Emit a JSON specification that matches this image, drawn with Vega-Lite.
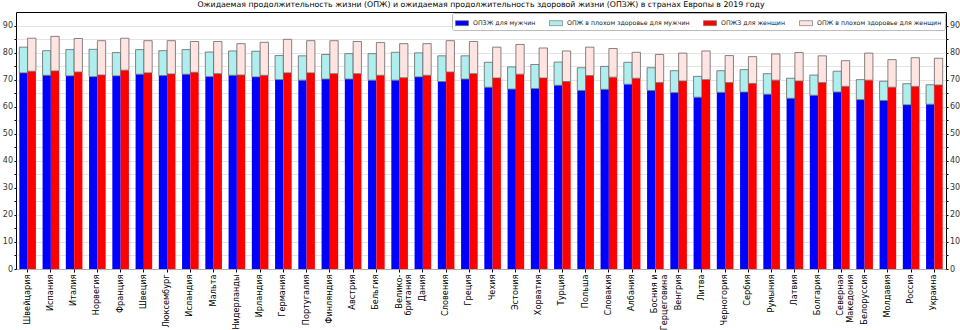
{
  "$schema": "https://vega.github.io/schema/vega-lite/v6.json",
  "autosize": "none",
  "width": 930,
  "height": 257,
  "padding": {"left": 16, "top": 12, "right": 14, "bottom": 61},
  "background": "#ffffff",
  "title": {"text": "Ожидаемая продолжительность жизни (ОПЖ) и ожидаемая продолжительность здоровой жизни (ОПЗЖ) в странах Европы в 2019 году", "fontSize": 7.8, "font": "DejaVu Sans", "fontWeight": "normal", "color": "#000000", "offset": 3, "anchor": "middle"},
  "config": {"view": {"stroke": "#000000", "strokeWidth": 1}, "font": "DejaVu Sans"},
  "data": {"values": [
    {"c": "Швейцария", "g": "м", "hale": 72.5, "le": 82.0}, {"c": "Швейцария", "g": "ж", "hale": 73.1, "le": 85.3},
    {"c": "Испания", "g": "м", "hale": 71.6, "le": 80.7}, {"c": "Испания", "g": "ж", "hale": 73.2, "le": 86.0},
    {"c": "Италия", "g": "м", "hale": 71.4, "le": 81.1}, {"c": "Италия", "g": "ж", "hale": 72.8, "le": 85.2},
    {"c": "Норвегия", "g": "м", "hale": 71.1, "le": 81.2}, {"c": "Норвегия", "g": "ж", "hale": 71.7, "le": 84.4},
    {"c": "Франция", "g": "м", "hale": 71.4, "le": 80.0}, {"c": "Франция", "g": "ж", "hale": 73.5, "le": 85.3},
    {"c": "Швеция", "g": "м", "hale": 72.0, "le": 81.1}, {"c": "Швеция", "g": "ж", "hale": 72.5, "le": 84.4},
    {"c": "Люксембург", "g": "м", "hale": 71.5, "le": 80.7}, {"c": "Люксембург", "g": "ж", "hale": 72.1, "le": 84.4},
    {"c": "Исландия", "g": "м", "hale": 72.0, "le": 81.1}, {"c": "Исландия", "g": "ж", "hale": 72.7, "le": 84.1},
    {"c": "Мальта", "g": "м", "hale": 71.1, "le": 80.2}, {"c": "Мальта", "g": "ж", "hale": 72.2, "le": 84.1},
    {"c": "Нидерланды", "g": "м", "hale": 71.6, "le": 80.6}, {"c": "Нидерланды", "g": "ж", "hale": 71.7, "le": 83.3},
    {"c": "Ирландия", "g": "м", "hale": 71.0, "le": 80.5}, {"c": "Ирландия", "g": "ж", "hale": 71.6, "le": 83.8},
    {"c": "Германия", "g": "м", "hale": 70.0, "le": 78.9}, {"c": "Германия", "g": "ж", "hale": 72.5, "le": 84.9},
    {"c": "Португалия", "g": "м", "hale": 69.8, "le": 78.8}, {"c": "Португалия", "g": "ж", "hale": 72.5, "le": 84.4},
    {"c": "Финляндия", "g": "м", "hale": 70.2, "le": 79.3}, {"c": "Финляндия", "g": "ж", "hale": 72.2, "le": 84.4},
    {"c": "Австрия", "g": "м", "hale": 70.2, "le": 79.6}, {"c": "Австрия", "g": "ж", "hale": 72.2, "le": 84.1},
    {"c": "Бельгия", "g": "м", "hale": 69.8, "le": 79.6}, {"c": "Бельгия", "g": "ж", "hale": 71.6, "le": 83.7},
    {"c": "Велико-\nбритания", "g": "м", "hale": 69.8, "le": 80.1}, {"c": "Велико-\nбритания", "g": "ж", "hale": 70.7, "le": 83.3},
    {"c": "Дания", "g": "м", "hale": 71.0, "le": 79.9}, {"c": "Дания", "g": "ж", "hale": 71.6, "le": 83.3},
    {"c": "Словения", "g": "м", "hale": 69.3, "le": 78.8}, {"c": "Словения", "g": "ж", "hale": 72.8, "le": 84.4},
    {"c": "Греция", "g": "м", "hale": 70.2, "le": 78.8}, {"c": "Греция", "g": "ж", "hale": 72.2, "le": 84.1},
    {"c": "Чехия", "g": "м", "hale": 67.2, "le": 76.4}, {"c": "Чехия", "g": "ж", "hale": 70.6, "le": 82.0},
    {"c": "Эстония", "g": "м", "hale": 66.5, "le": 74.7}, {"c": "Эстония", "g": "ж", "hale": 72.0, "le": 83.0},
    {"c": "Хорватия", "g": "м", "hale": 66.7, "le": 75.6}, {"c": "Хорватия", "g": "ж", "hale": 70.6, "le": 81.7},
    {"c": "Турция", "g": "м", "hale": 67.9, "le": 76.5}, {"c": "Турция", "g": "ж", "hale": 69.3, "le": 80.6},
    {"c": "Польша", "g": "м", "hale": 66.0, "le": 74.4}, {"c": "Польша", "g": "ж", "hale": 71.5, "le": 82.0},
    {"c": "Словакия", "g": "м", "hale": 66.4, "le": 74.9}, {"c": "Словакия", "g": "ж", "hale": 70.9, "le": 81.5},
    {"c": "Албания", "g": "м", "hale": 68.3, "le": 76.4}, {"c": "Албания", "g": "ж", "hale": 70.5, "le": 80.1},
    {"c": "Босния и\nГерцеговина", "g": "м", "hale": 66.0, "le": 74.4}, {"c": "Босния и\nГерцеговина", "g": "ж", "hale": 68.9, "le": 79.3},
    {"c": "Венгрия", "g": "м", "hale": 65.2, "le": 73.3}, {"c": "Венгрия", "g": "ж", "hale": 69.5, "le": 79.8},
    {"c": "Литва", "g": "м", "hale": 63.5, "le": 71.2}, {"c": "Литва", "g": "ж", "hale": 70.0, "le": 80.6},
    {"c": "Черногория", "g": "м", "hale": 65.3, "le": 73.3}, {"c": "Черногория", "g": "ж", "hale": 68.9, "le": 78.9},
    {"c": "Сербия", "g": "м", "hale": 65.4, "le": 73.7}, {"c": "Сербия", "g": "ж", "hale": 68.6, "le": 78.5},
    {"c": "Румыния", "g": "м", "hale": 64.6, "le": 72.2}, {"c": "Румыния", "g": "ж", "hale": 69.8, "le": 79.5},
    {"c": "Латвия", "g": "м", "hale": 63.1, "le": 70.5}, {"c": "Латвия", "g": "ж", "hale": 69.5, "le": 80.0},
    {"c": "Болгария", "g": "м", "hale": 64.2, "le": 71.7}, {"c": "Болгария", "g": "ж", "hale": 68.9, "le": 78.8},
    {"c": "Северная\nМакедония", "g": "м", "hale": 65.4, "le": 73.1}, {"c": "Северная\nМакедония", "g": "ж", "hale": 67.5, "le": 77.0},
    {"c": "Белоруссия", "g": "м", "hale": 62.6, "le": 70.0}, {"c": "Белоруссия", "g": "ж", "hale": 69.8, "le": 79.8},
    {"c": "Молдавия", "g": "м", "hale": 62.3, "le": 69.4}, {"c": "Молдавия", "g": "ж", "hale": 67.2, "le": 77.4},
    {"c": "Россия", "g": "м", "hale": 60.7, "le": 68.5}, {"c": "Россия", "g": "ж", "hale": 67.5, "le": 78.1},
    {"c": "Украина", "g": "м", "hale": 60.9, "le": 68.1}, {"c": "Украина", "g": "ж", "hale": 68.0, "le": 77.9}
  ]},
  "encoding": {
    "x": {"field": "c", "type": "nominal", "sort": null,
      "scale": {"paddingInner": 0.286, "paddingOuter": 0.143},
      "axis": {"title": null, "labelAngle": -90, "labelAlign": "right", "labelBaseline": "middle", "labelFontSize": 8.2, "labelColor": "#000000", "labelExpr": "split(datum.label, '\\n')", "labelOverlap": false, "labelLimit": 0, "labelLineHeight": 9.5, "tickSize": 3, "tickColor": "#000000", "domain": false, "labelPadding": 2, "grid": false}},
    "xOffset": {"field": "g", "type": "nominal", "scale": {"domain": ["м", "ж"], "paddingInner": 0, "paddingOuter": 0}}
  },
  "layer": [
    {
      "transform": [{"filter": "datum.g == 'м'"}],
      "mark": {"type": "bar"},
      "encoding": {
        "y": {"field": "hale", "type": "quantitative", "scale": {"domain": [0, 95], "nice": false},
          "axis": {"orient": "left", "title": null, "values": [0, 5, 10, 15, 20, 25, 30, 35, 40, 45, 50, 55, 60, 65, 70, 75, 80, 85, 90], "labelExpr": "datum.value % 10 == 0 ? datum.label : ''", "grid": true, "gridColor": "#dcdcdc", "gridWidth": 0.8, "tickSize": 2, "tickColor": "#000000", "domain": false, "labelFontSize": 8, "labelColor": "#333333", "labelPadding": 1.5}},
        "color": {"datum": "ОПЗЖ для мужчин", "type": "nominal",
          "scale": {"domain": ["ОПЗЖ для мужчин", "ОПЖ в плохом здоровье для мужчин", "ОПЖЗ для женщин", "ОПЖ в плохом здоровье для женщин"], "range": ["#0000ff", "#afeeee", "#ff0000", "#ffe4e1"]},
          "legend": {"orient": "none", "legendX": 436, "legendY": 1, "direction": "horizontal", "columns": 4, "title": null, "symbolType": "M-1,-0.38L1,-0.38L1,0.38L-1,0.38Z", "symbolSize": 169, "labelFontSize": 6.25, "labelColor": "#222222", "strokeColor": "#bbbbbb", "fillColor": "#ffffff", "padding": 3, "cornerRadius": 2, "columnPadding": 12, "labelOffset": 4, "symbolStrokeColor": "#666666", "symbolStrokeWidth": 0.6}}
      }
    },
    {
      "transform": [{"filter": "datum.g == 'м'"}],
      "mark": {"type": "bar", "stroke": "#666666", "strokeWidth": 0.8},
      "encoding": {
        "y": {"field": "le", "type": "quantitative",
          "axis": {"orient": "right", "title": null, "values": [0, 5, 10, 15, 20, 25, 30, 35, 40, 45, 50, 55, 60, 65, 70, 75, 80, 85, 90], "labelExpr": "datum.value % 10 == 0 ? datum.label : ''", "grid": false, "tickSize": 2, "tickColor": "#000000", "domain": false, "labelFontSize": 8, "labelColor": "#333333", "labelPadding": 1.5}},
        "y2": {"field": "hale"},
        "color": {"datum": "ОПЖ в плохом здоровье для мужчин", "type": "nominal"}
      }
    },
    {
      "transform": [{"filter": "datum.g == 'ж'"}],
      "mark": {"type": "bar"},
      "encoding": {
        "y": {"field": "hale", "type": "quantitative", "axis": null},
        "color": {"datum": "ОПЖЗ для женщин", "type": "nominal"}
      }
    },
    {
      "transform": [{"filter": "datum.g == 'ж'"}],
      "mark": {"type": "bar", "stroke": "#666666", "strokeWidth": 0.8},
      "encoding": {
        "y": {"field": "le", "type": "quantitative", "axis": null},
        "y2": {"field": "hale"},
        "color": {"datum": "ОПЖ в плохом здоровье для женщин", "type": "nominal"}
      }
    }
  ],
  "resolve": {"axis": {"y": "independent"}}
}
